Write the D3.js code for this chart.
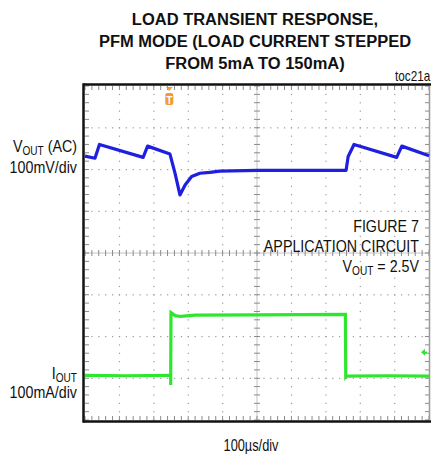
<!DOCTYPE html>
<html>
<head>
<meta charset="utf-8">
<script src="https://cdn.jsdelivr.net/npm/d3@7"></script>
<style>
  body { margin: 0; background: #fff; }
  text { font-family: "Liberation Sans", Arial, sans-serif; fill: #111; }
</style>
</head>
<body>
<div id="chart"></div>
<script>
'use strict';

// time axis in divisions (100us/div), traces in screen divisions from centre line
var vTime = [0, 0.29, 0.42, 1.69, 1.82, 2.47, 2.62, 2.76, 2.91, 3.10, 3.34, 3.63, 3.92, 5.0, 6.5, 7.59, 7.65, 7.82, 9.06, 9.21, 10.0];
var vOut  = [2.32, 2.27, 2.60, 2.29, 2.56, 2.37, 1.90, 1.39, 1.63, 1.83, 1.91, 1.93, 1.96, 1.98, 1.98, 1.98, 2.31, 2.60, 2.29, 2.56, 2.33];

var iTime = [0, 1.2, 2.49, 2.49, 2.50, 2.62, 2.78, 3.2, 5.0, 7.57, 7.58, 7.59, 8.8, 10.0];
var iOut  = [-2.93, -2.94, -2.93, -3.16, -1.43, -1.50, -1.52, -1.49, -1.48, -1.47, -2.96, -2.95, -2.94, -2.95];

var trigTime = 2.45;
var iGround = -2.38;

var titleLines = ["LOAD TRANSIENT RESPONSE,", "PFM MODE (LOAD CURRENT STEPPED", "FROM 5mA TO 150mA)"];
var noteLines = ["FIGURE 7", "APPLICATION CIRCUIT"];

var width = 431, height = 459;

var svg = d3.select("#chart").append("svg")
    .attr("width", width)
    .attr("height", height);

var x = d3.scaleLinear().domain([0, 10]).range([85, 429]);
var y = d3.scaleLinear().domain([-4, 4]).range([420, 86]);

// narrow-looking text: squeeze horizontally
function label(xp, yp, anchor, size, squeeze, weight) {
    return svg.append("g")
        .attr("transform", "translate(" + xp + "," + yp + ") scale(" + squeeze + ",1)")
      .append("text")
        .attr("text-anchor", anchor)
        .style("font-size", size + "px")
        .style("font-weight", weight || "normal");
}

// title
titleLines.forEach(function(d, i) {
    label(255, 25 + i * 22, "middle", 17, 0.97, "bold").text(d);
});

label(395, 81, "start", 14, 0.84).text("toc21a");

// grid
var grid = svg.append("g");
var minor = d3.range(0, 10.001, 0.2);
var minorY = d3.range(-4, 4.001, 0.2);

[1, 2, 3, 4, 6, 7, 8, 9].forEach(function(k) {
    grid.selectAll(null).data(minorY).enter().append("rect")
        .attr("x", x(k) - 0.5).attr("y", function(d) { return y(d) - 0.5; })
        .attr("width", 1.2).attr("height", 1.2)
        .attr("fill", "#9a9a9a");
});
[-3, -2, -1, 1, 2, 3].forEach(function(k) {
    grid.selectAll(null).data(minor).enter().append("rect")
        .attr("x", function(d) { return x(d) - 0.5; }).attr("y", y(k) - 0.5)
        .attr("width", 1.2).attr("height", 1.2)
        .attr("fill", "#9a9a9a");
});

// centre cross with minor ticks
grid.append("line")
    .attr("x1", x(0)).attr("x2", x(10)).attr("y1", y(0)).attr("y2", y(0))
    .attr("stroke", "#c4c4c4").attr("stroke-width", 1);
grid.append("line")
    .attr("x1", x(5)).attr("x2", x(5)).attr("y1", y(-4)).attr("y2", y(4))
    .attr("stroke", "#c4c4c4").attr("stroke-width", 1);
grid.selectAll(null).data(minor).enter().append("line")
    .attr("x1", function(d) { return x(d); }).attr("x2", function(d) { return x(d); })
    .attr("y1", y(0) - 3).attr("y2", y(0) + 3)
    .attr("stroke", "#8a8a8a").attr("stroke-width", 1);
grid.selectAll(null).data(minorY).enter().append("line")
    .attr("y1", function(d) { return y(d); }).attr("y2", function(d) { return y(d); })
    .attr("x1", x(5) - 3).attr("x2", x(5) + 3)
    .attr("stroke", "#8a8a8a").attr("stroke-width", 1);

// border ticks
grid.selectAll(null).data(minor).enter().append("line")
    .attr("x1", function(d) { return x(d); }).attr("x2", function(d) { return x(d); })
    .attr("y1", y(4)).attr("y2", y(4) + 4)
    .attr("stroke", "#8a8a8a");
grid.selectAll(null).data(minor).enter().append("line")
    .attr("x1", function(d) { return x(d); }).attr("x2", function(d) { return x(d); })
    .attr("y1", y(-4)).attr("y2", y(-4) - 4)
    .attr("stroke", "#8a8a8a");
grid.selectAll(null).data(minorY).enter().append("line")
    .attr("y1", function(d) { return y(d); }).attr("y2", function(d) { return y(d); })
    .attr("x1", x(0)).attr("x2", x(0) + 4)
    .attr("stroke", "#8a8a8a");
grid.selectAll(null).data(minorY).enter().append("line")
    .attr("y1", function(d) { return y(d); }).attr("y2", function(d) { return y(d); })
    .attr("x1", x(10)).attr("x2", x(10) - 4)
    .attr("stroke", "#8a8a8a");

// frame
grid.append("line")
    .attr("x1", x(10) + 0.5).attr("x2", x(10) + 0.5).attr("y1", y(4)).attr("y2", y(-4))
    .attr("stroke", "#9a9a9a").attr("stroke-width", 1.5);
grid.append("line")
    .attr("x1", x(0) - 1.5).attr("x2", width).attr("y1", y(4) - 1.5).attr("y2", y(4) - 1.5)
    .attr("stroke", "#111").attr("stroke-width", 2.5);
grid.append("line")
    .attr("x1", x(0) - 1.5).attr("x2", width).attr("y1", y(-4) + 1.5).attr("y2", y(-4) + 1.5)
    .attr("stroke", "#111").attr("stroke-width", 2.5);
grid.append("line")
    .attr("x1", x(0) - 1.5).attr("x2", x(0) - 1.5).attr("y1", y(4) - 2.7).attr("y2", y(-4) + 2.7)
    .attr("stroke", "#111").attr("stroke-width", 2.5);

// traces
var line = d3.line()
    .x(function(d) { return x(d[0]); })
    .y(function(d) { return y(d[1]); });

var vData = vTime.map(function(t, i) { return [t, vOut[i]]; });
var iData = iTime.map(function(t, i) { return [t, iOut[i]]; });

svg.append("path")
    .attr("d", line(vData))
    .attr("fill", "none")
    .attr("stroke", "#1f1fe0")
    .attr("stroke-width", 3.2)
    .attr("stroke-linejoin", "round");

// thin edges first, then thick flat runs
svg.append("path")
    .attr("d", line(iData))
    .attr("fill", "none")
    .attr("stroke", "#6fe86f")
    .attr("stroke-width", 1.2);

var runs = [], cur = [iData[0]];
for (var i = 1; i < iData.length; i++) {
    if (iData[i][0] - iData[i - 1][0] > 0.005) {
        cur.push(iData[i]);
    } else {
        if (cur.length > 1) runs.push(cur);
        cur = [iData[i]];
    }
}
if (cur.length > 1) runs.push(cur);

svg.selectAll(".irun")
    .data(runs)
  .enter().append("path")
    .attr("class", "irun")
    .attr("d", line)
    .attr("fill", "none")
    .attr("stroke", "#2fe62f")
    .attr("stroke-width", 3.2);

// trigger marker
var tx = x(trigTime);
svg.append("path")
    .attr("d", "M" + (tx - 3.5) + ",87 L" + (tx + 3.5) + ",87 L" + tx + ",91 Z")
    .attr("fill", "#f29a3a");
svg.append("rect")
    .attr("x", tx - 4).attr("y", 93).attr("width", 8).attr("height", 12).attr("rx", 2)
    .attr("fill", "#f29a3a");
svg.append("text")
    .attr("x", tx).attr("y", 103.5)
    .attr("text-anchor", "middle")
    .style("font-size", "10px").style("font-weight", "bold").style("fill", "#fff")
    .text("T");

// channel 2 ground marker
var gy = y(iGround);
svg.append("path")
    .attr("d", "M" + (x(10) - 8) + "," + gy + " L" + (x(10) - 4) + "," + (gy - 3.5) + " L" + (x(10) - 4) + "," + (gy + 3.5) + " Z")
    .attr("fill", "#2fe62f");
svg.append("line")
    .attr("x1", x(10) - 4).attr("x2", x(10) - 2).attr("y1", gy).attr("y2", gy)
    .attr("stroke", "#2fe62f").attr("stroke-width", 1.5);

// labels with subscript
function subLabel(xp, yp, main, sub, rest) {
    var t = label(xp, yp, "end", 17, 0.84);
    t.append("tspan").text(main);
    t.append("tspan").attr("dy", 3).style("font-size", "12px").text(sub);
    t.append("tspan").attr("dy", -3).text(rest);
    return t;
}

subLabel(77, 152, "V", "OUT", " (AC)");
label(77, 173, "end", 17, 0.84).text("100mV/div");

subLabel(77, 379, "I", "OUT", "");
label(77, 398, "end", 17, 0.84).text("100mA/div");

// figure note
noteLines.forEach(function(d, i) {
    label(419, 232 + i * 20, "end", 17, 0.84).text(d);
});
subLabel(419, 272, "V", "OUT", " = 2.5V");

// x axis label
label(251, 451, "middle", 16, 0.8).text("100\u00b5s/div");
</script>
</body>
</html>
